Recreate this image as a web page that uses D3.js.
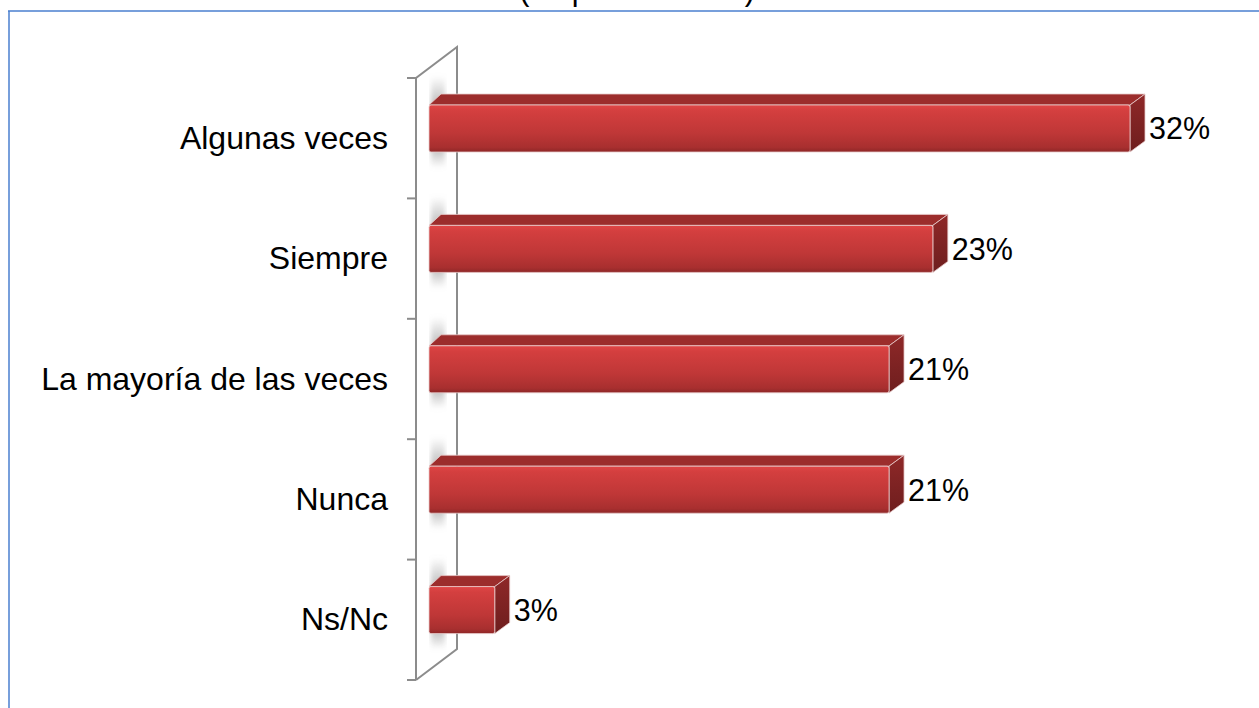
<!DOCTYPE html>
<html>
<head>
<meta charset="utf-8">
<script src="https://cdn.jsdelivr.net/npm/d3@7"></script>
<style>
  html, body { margin: 0; padding: 0; background: #fff; }
  svg { display: block; font-family: "Liberation Sans", Arial, sans-serif; }
</style>
</head>
<body>
<svg id="chart" width="1259" height="708"></svg>
<script>
const categories = ['Algunas veces', 'Siempre', 'La mayoría de las veces', 'Nunca', 'Ns/Nc'];
const values = [32, 23, 21, 21, 3];
const valueLabels = ['32%', '23%', '21%', '21%', '3%'];
const titleText = '(respuesta única)';

const width = 1259;
const height = 708;
const depthX = 41, depthY = -31;      // side wall depth
const barDx = 15, barDy = -11;        // bar 3d depth
const barOffset = 27, barH = 47;

const svg = d3.select('#chart');

const x = d3.scaleLinear().domain([0, 32]).range([429, 1130]);
const y = d3.scaleBand().domain(categories).range([78, 680]);
const axisX = 416;

const defs = svg.append('defs');
const front = defs.append('linearGradient').attr('id', 'front').attr('x1', 0).attr('y1', 0).attr('x2', 0).attr('y2', 1);
front.append('stop').attr('offset', '0%').attr('stop-color', '#e04646');
front.append('stop').attr('offset', '12%').attr('stop-color', '#d43f3f');
front.append('stop').attr('offset', '60%').attr('stop-color', '#bf3737');
front.append('stop').attr('offset', '90%').attr('stop-color', '#a82f2f');
front.append('stop').attr('offset', '100%').attr('stop-color', '#8e2727');
const side = defs.append('linearGradient').attr('id', 'side').attr('x1', 0).attr('y1', 0).attr('x2', 0).attr('y2', 1);
side.append('stop').attr('offset', '0%').attr('stop-color', '#8f2828');
side.append('stop').attr('offset', '100%').attr('stop-color', '#6e1e1e');
const shade = defs.append('linearGradient').attr('id', 'shade').attr('x1', 0).attr('y1', 0).attr('x2', 0).attr('y2', 1);
shade.append('stop').attr('offset', '0%').attr('stop-color', '#a0a0a0').attr('stop-opacity', 0);
shade.append('stop').attr('offset', '35%').attr('stop-color', '#a0a0a0').attr('stop-opacity', 0.8);
shade.append('stop').attr('offset', '75%').attr('stop-color', '#a0a0a0').attr('stop-opacity', 0.8);
shade.append('stop').attr('offset', '100%').attr('stop-color', '#a0a0a0').attr('stop-opacity', 0);
defs.append('filter').attr('id', 'blur').append('feGaussianBlur').attr('stdDeviation', 2.5);

// frame
svg.append('line').attr('x1', 8).attr('x2', width).attr('y1', 11).attr('y2', 11)
  .attr('stroke', '#4a7fcf').attr('stroke-width', 1.5);
svg.append('line').attr('x1', 9).attr('x2', 9).attr('y1', 11).attr('y2', height)
  .attr('stroke', '#4a7fcf').attr('stroke-width', 1.5);

// cut-off title (only descenders show, as in the source)
svg.append('text').attr('x', 637).attr('y', -0.5).attr('text-anchor', 'middle')
  .attr('font-size', 30.5).attr('fill', '#000').text(titleText);

// side wall
const [y0, y1] = y.range();
svg.append('path')
  .attr('d', `M${axisX},${y1} L${axisX},${y0} L${axisX + depthX},${y0 + depthY} L${axisX + depthX},${y1 + depthY} L${axisX},${y1}`)
  .attr('fill', 'none').attr('stroke', '#8c8c8c').attr('stroke-width', 2);

// tick marks at band edges
const edges = categories.map((c) => y(c)).concat([y1]);
svg.append('g').selectAll('line').data(edges).enter().append('line')
  .attr('x1', axisX - 9).attr('x2', axisX).attr('y1', (d) => d).attr('y2', (d) => d)
  .attr('stroke', '#8c8c8c').attr('stroke-width', 2);

// category labels
const axis = svg.append('g').attr('transform', `translate(${axisX},0)`)
  .call(d3.axisLeft(y).tickSize(0).tickPadding(28));
axis.select('.domain').remove();
axis.selectAll('text').attr('font-size', 32).attr('fill', '#000')
  .attr('font-family', '"Liberation Sans", Arial, sans-serif').attr('dy', '0.33em');

const data = categories.map((c, i) => ({ c, v: values[i], label: valueLabels[i] }));

// shadows on wall
svg.append('g').selectAll('rect').data(data).enter().append('rect')
  .attr('x', 431).attr('width', 14)
  .attr('y', (d) => y(d.c) - 2).attr('height', barOffset + barH + 18)
  .attr('fill', 'url(#shade)').attr('filter', 'url(#blur)');

const bars = svg.append('g').selectAll('g').data(data).enter().append('g');

bars.append('path')
  .attr('d', (d) => {
    const x0 = x(0), x1 = x(d.v), t = y(d.c) + barOffset;
    return `M${x0},${t} L${x0 + barDx - 3},${t + barDy} L${x1 + barDx},${t + barDy} L${x1},${t} Z`;
  })
  .attr('fill', '#9c2d2c').attr('stroke', '#e9cccc').attr('stroke-width', 0.8);

bars.append('path')
  .attr('d', (d) => {
    const x1 = x(d.v), t = y(d.c) + barOffset, b = t + barH;
    return `M${x1},${t} L${x1 + barDx},${t + barDy} L${x1 + barDx},${b + barDy} L${x1},${b} Z`;
  })
  .attr('fill', 'url(#side)').attr('stroke', '#e9cccc').attr('stroke-width', 0.8);

bars.append('rect')
  .attr('x', x(0)).attr('width', (d) => x(d.v) - x(0))
  .attr('y', (d) => y(d.c) + barOffset).attr('height', barH)
  .attr('rx', 2)
  .attr('fill', 'url(#front)').attr('stroke', '#e9cccc').attr('stroke-width', 0.8);

bars.append('text')
  .attr('x', (d) => x(d.v) + barDx + 4)
  .attr('y', (d) => y(d.c) + barOffset + barH / 2)
  .attr('dy', '0.36em')
  .attr('font-size', 30.5).attr('fill', '#000')
  .text((d) => d.label);
</script>
</body>
</html>
